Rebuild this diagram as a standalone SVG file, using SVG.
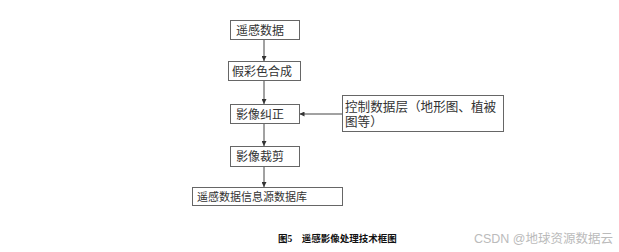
<svg xmlns="http://www.w3.org/2000/svg" width="619" height="252" viewBox="0 0 619 252">
<style>
.box{fill:#fff;stroke:#666;stroke-width:1}
.t{font-family:"Liberation Serif","Noto Sans CJK SC",serif;font-size:12px;fill:#333}
.c{stroke:#444;stroke-width:1;fill:none;marker-end:url(#ah)}
.cap{font-family:"Liberation Serif","Noto Sans CJK SC",serif;font-size:9.5px;font-weight:bold;fill:#111}
.wm{font-family:"Liberation Sans","Noto Sans CJK SC",sans-serif;font-size:12.5px;fill:#bbb}
</style>
<defs>
<marker id="ah" viewBox="0 0 6 6" refX="6" refY="3" markerWidth="5" markerHeight="5" orient="auto" markerUnits="userSpaceOnUse">
<path d="M0,0 L6,3 L0,6 Z" fill="#333"/>
</marker>
</defs>
<rect width="619" height="252" fill="#fff"/>
<g id="connectors">
<line class="c" x1="264" y1="39.5" x2="264" y2="61"/>
<line class="c" x1="264" y1="80.5" x2="264" y2="104"/>
<line class="c" x1="342" y1="114" x2="299.5" y2="114"/>
<line class="c" x1="264" y1="123.5" x2="264" y2="146"/>
<line class="c" x1="264" y1="166.5" x2="264" y2="187"/>
</g>
<g id="n1">
<rect class="box" x="230.5" y="20.5" width="69" height="19"/>
<text class="t" x="236" y="34.5">遥感数据</text>
</g>
<g id="n2">
<rect class="box" x="228.5" y="61.5" width="72" height="19"/>
<text class="t" x="232" y="75.5">假彩色合成</text>
</g>
<g id="n3">
<rect class="box" x="230.5" y="104.5" width="69" height="19"/>
<text class="t" x="236" y="118.5">影像纠正</text>
</g>
<g id="n4">
<rect class="box" x="230.5" y="146.5" width="69" height="20"/>
<text class="t" x="236" y="161">影像裁剪</text>
</g>
<g id="n5">
<rect class="box" x="192.5" y="187.5" width="150" height="18"/>
<text class="t" x="197" y="201" style="font-size:11px">遥感数据信息源数据库</text>
</g>
<g id="n6">
<rect class="box" x="342.5" y="95.5" width="161" height="36"/>
<text class="t" x="345" y="111" style="font-size:12.6px">控制数据层（地形图、植被</text>
<text class="t" x="345" y="126" style="font-size:12.6px">图等）</text>
</g>
<text class="cap" x="278" y="242">图5　遥感影像处理技术框图</text>
<text class="wm" x="613" y="243" text-anchor="end">CSDN @地球资源数据云</text>
</svg>
